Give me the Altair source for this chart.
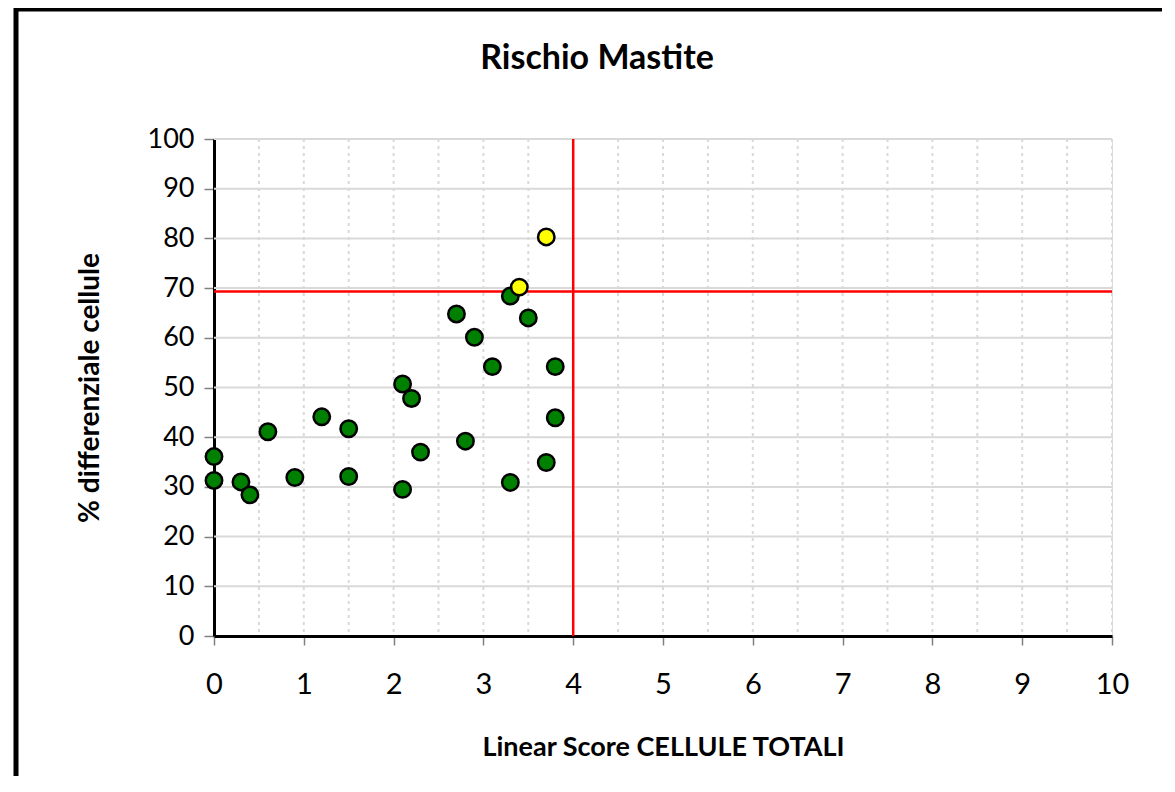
import altair as alt
import pandas as pd

# Data
ls_values = [0.0, 0.0, 0.3, 0.4, 0.6, 0.9, 1.2, 1.5, 1.5, 2.1, 2.2, 2.3, 2.1, 2.8,
             2.7, 2.9, 3.1, 3.3, 3.5, 3.3, 3.8, 3.8, 3.7, 3.4, 3.7]
pct_values = [36.1, 31.3, 31.0, 28.4, 41.1, 31.9, 44.1, 41.7, 32.1, 50.7, 47.8, 37.0, 29.5, 39.2,
              64.8, 60.1, 54.2, 68.4, 64.0, 30.9, 54.2, 43.9, 34.9, 70.2, 80.3]
risk = ["no"] * 23 + ["si"] * 2

x_ticks = list(range(0, 11))
y_ticks = list(range(0, 101, 10))
x_grid = [i / 2 for i in range(1, 21)]
y_grid = list(range(10, 101, 10))
x_threshold = [4]
y_threshold = [69.3]

W, H = 898, 497
FONT = "Lato"

pts = pd.DataFrame({"ls": ls_values, "pct": pct_values, "rischio": risk})

xs = alt.Scale(domain=[0, 10], nice=False, zero=False)
ys = alt.Scale(domain=[0, 100], nice=False, zero=False)

xaxis = alt.Axis(values=x_ticks, grid=False, domainColor="black", domainWidth=3,
                 tickColor="#808080", tickWidth=1.5, tickSize=9,
                 labelFont=FONT, labelFontSize=29, labelColor="black", labelPadding=25,
                 labelFlush=False,
                 title="Linear Score CELLULE TOTALI", titleFont=FONT, titleFontSize=27,
                 titleFontWeight="bold", titleColor="black",
                 titleX=W / 2, titleY=119, titleBaseline="alphabetic")
yaxis = alt.Axis(values=y_ticks, grid=False, domainColor="black", domainWidth=3,
                 tickColor="#808080", tickWidth=1.5, tickSize=10,
                 labelFont=FONT, labelFontSize=27, labelColor="black", labelPadding=10,
                 labelFlush=False,
                 title="% differenziale cellule", titleFont=FONT, titleFontSize=28,
                 titleFontWeight="bold", titleColor="black",
                 titleX=-124, titleY=H / 2, titleAngle=-90, titleBaseline="middle")

gv = alt.Chart(pd.DataFrame({"g": x_grid})).mark_rule(
    color="#d9d9d9", strokeWidth=2, strokeDash=[3, 4]
).encode(x=alt.X("g:Q", scale=xs, axis=xaxis), y=alt.value(0), y2=alt.value(H))

gh = alt.Chart(pd.DataFrame({"g": y_grid})).mark_rule(
    color="#d9d9d9", strokeWidth=2
).encode(y=alt.Y("g:Q", scale=ys, axis=yaxis), x=alt.value(0), x2=alt.value(W))

rv = alt.Chart(pd.DataFrame({"t": x_threshold})).mark_rule(
    color="#ff0000", strokeWidth=2.5
).encode(x=alt.X("t:Q", scale=xs, axis=xaxis), y=alt.value(0), y2=alt.value(H))

rh = alt.Chart(pd.DataFrame({"t": y_threshold})).mark_rule(
    color="#ff0000", strokeWidth=2.5
).encode(y=alt.Y("t:Q", scale=ys, axis=yaxis), x=alt.value(0), x2=alt.value(W))

points = alt.Chart(pts).mark_point(
    filled=True, shape="circle", size=270, stroke="black", strokeWidth=2.5, opacity=1
).encode(
    x=alt.X("ls:Q", scale=xs, axis=xaxis),
    y=alt.Y("pct:Q", scale=ys, axis=yaxis),
    fill=alt.Fill("rischio:N", scale=alt.Scale(domain=["no", "si"], range=["#008000", "#ffff00"]),
                  legend=None),
)

frame_top = alt.Chart(pd.DataFrame({"a": [0]})).mark_rule(color="black", strokeWidth=5).encode(
    x=alt.value(-198), x2=alt.value(1200), y=alt.value(-130))
frame_left = alt.Chart(pd.DataFrame({"a": [0]})).mark_rule(color="black", strokeWidth=5).encode(
    x=alt.value(-198), y=alt.value(-132), y2=alt.value(900))

chart = alt.layer(gv, gh, rv, rh, points, frame_top, frame_left).properties(
    width=W, height=H,
    autosize=alt.AutoSizeParams(type="none"),
    padding={"left": 206, "top": 131, "right": 50, "bottom": 140},
    title=alt.TitleParams("Rischio Mastite", font=FONT, fontSize=34, fontWeight="bold",
                          color="black", anchor="middle", dx=-66, offset=-98.5,
                          baseline="alphabetic"),
).configure_view(stroke=None).configure(background="white")

chart.save("out.html", embed_options={"renderer": "svg", "actions": False})
